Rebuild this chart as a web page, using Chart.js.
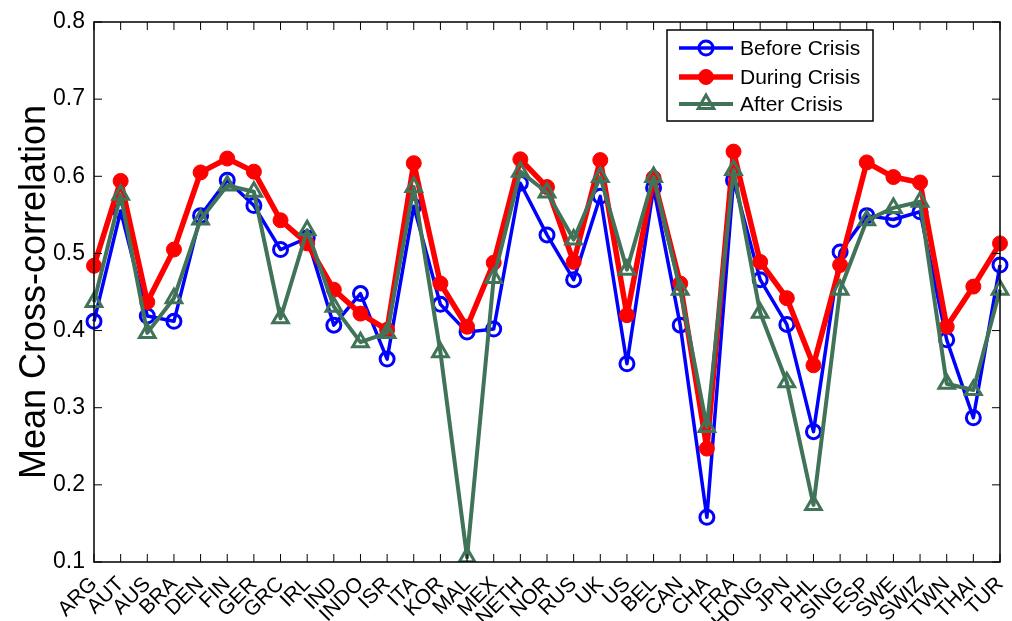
<!DOCTYPE html>
<html>
<head>
<meta charset="utf-8">
<script src="https://cdn.jsdelivr.net/npm/chart.js@4.4.1/dist/chart.umd.min.js"></script>
<style>
  html, body { margin: 0; padding: 0; background: #fff; }
</style>
</head>
<body>
<canvas id="chart" width="1012" height="621"></canvas>
<script>
const countries = ['ARG', 'AUT', 'AUS', 'BRA', 'DEN', 'FIN', 'GER', 'GRC', 'IRL', 'IND', 'INDO', 'ISR',
  'ITA', 'KOR', 'MAL', 'MEX', 'NETH', 'NOR', 'RUS', 'UK', 'US', 'BEL', 'CAN', 'CHA', 'FRA', 'HONG',
  'JPN', 'PHL', 'SING', 'ESP', 'SWE', 'SWIZ', 'TWN', 'THAI', 'TUR'];

const beforeCrisis = [0.412, 0.555, 0.419, 0.412, 0.549, 0.595, 0.562, 0.505, 0.520, 0.407, 0.448, 0.363,
  0.561, 0.434, 0.398, 0.402, 0.591, 0.524, 0.466, 0.574, 0.357, 0.585, 0.407, 0.158, 0.595, 0.466,
  0.408, 0.269, 0.502, 0.549, 0.544, 0.554, 0.388, 0.287, 0.485];

const duringCrisis = [0.484, 0.594, 0.437, 0.505, 0.605, 0.623, 0.606, 0.543, 0.513, 0.453, 0.422, 0.401,
  0.617, 0.461, 0.405, 0.488, 0.622, 0.586, 0.489, 0.621, 0.420, 0.598, 0.461, 0.247, 0.632, 0.489,
  0.442, 0.355, 0.485, 0.618, 0.599, 0.592, 0.405, 0.457, 0.513];

const afterCrisis = [0.437, 0.576, 0.397, 0.442, 0.544, 0.588, 0.580, 0.416, 0.530, 0.431, 0.385, 0.397,
  0.586, 0.372, 0.106, 0.468, 0.606, 0.579, 0.518, 0.599, 0.479, 0.599, 0.453, 0.275, 0.608, 0.423,
  0.333, 0.174, 0.453, 0.543, 0.559, 0.567, 0.331, 0.323, 0.453];

const yTicks = [0.1, 0.2, 0.3, 0.4, 0.5, 0.6, 0.7, 0.8];

const BLUE = '#0000ff';
const RED = '#ff0000';
const GREEN = '#407358';
const FONT = '"Liberation Sans", Arial, sans-serif';

// box, inward ticks on all four sides, and the legend (matlab style)
const matlabFrame = {
  id: 'matlabFrame',
  afterDraw(chart) {
    const { ctx, chartArea: a, scales } = chart;
    const len = 8;
    ctx.save();
    ctx.strokeStyle = '#000';
    ctx.lineWidth = 1.5;
    ctx.strokeRect(a.left, a.top, a.right - a.left, a.bottom - a.top);
    ctx.lineWidth = 1;
    ctx.beginPath();
    scales.x.ticks.forEach((t, i) => {
      const x = scales.x.getPixelForTick(i);
      ctx.moveTo(x, a.bottom); ctx.lineTo(x, a.bottom - len);
      ctx.moveTo(x, a.top); ctx.lineTo(x, a.top + len);
    });
    scales.y.ticks.forEach((t, i) => {
      const y = scales.y.getPixelForTick(i);
      ctx.moveTo(a.left, y); ctx.lineTo(a.left + len, y);
      ctx.moveTo(a.right, y); ctx.lineTo(a.right - len, y);
    });
    ctx.stroke();

    // legend
    const lx = 667, ly = 30, lw = 206, lh = 91;
    ctx.fillStyle = '#fff';
    ctx.fillRect(lx, ly, lw, lh);
    ctx.lineWidth = 1.5;
    ctx.strokeStyle = '#000';
    ctx.strokeRect(lx, ly, lw, lh);
    const rows = [48, 77, 104];
    chart.data.datasets.forEach((ds, i) => {
      const y = rows[i];
      ctx.strokeStyle = ds.borderColor;
      ctx.lineWidth = ds.borderWidth;
      ctx.beginPath();
      ctx.moveTo(679, y); ctx.lineTo(733, y);
      ctx.stroke();
      ctx.fillStyle = ds.pointBackgroundColor;
      ctx.lineWidth = ds.pointBorderWidth;
      ctx.beginPath();
      if (ds.pointStyle === 'circle') {
        ctx.arc(706, y, ds.pointRadius, 0, Math.PI * 2);
      } else {
        const r = ds.pointRadius;
        ctx.moveTo(706, y - r);
        ctx.lineTo(706 + r * 0.866, y + r * 0.5);
        ctx.lineTo(706 - r * 0.866, y + r * 0.5);
        ctx.closePath();
      }
      ctx.fill();
      ctx.stroke();
      ctx.fillStyle = '#000';
      ctx.font = '21px ' + FONT;
      ctx.textBaseline = 'middle';
      ctx.textAlign = 'left';
      ctx.fillText(ds.label, 740, y + 1);
    });
    ctx.restore();
  }
};

const ctx = document.getElementById('chart').getContext('2d');
new Chart(ctx, {
  type: 'line',
  data: {
    labels: countries,
    datasets: [
      {
        label: 'Before Crisis',
        data: beforeCrisis,
        borderColor: BLUE,
        borderWidth: 3.5,
        borderJoinStyle: 'round',
        pointStyle: 'circle',
        pointRadius: 7,
        pointBorderWidth: 3,
        pointBackgroundColor: 'rgba(0,0,0,0)',
        pointBorderColor: BLUE,
        order: 2
      },
      {
        label: 'During Crisis',
        data: duringCrisis,
        borderColor: RED,
        borderWidth: 5.5,
        borderJoinStyle: 'round',
        pointStyle: 'circle',
        pointRadius: 7.5,
        pointBorderWidth: 1,
        pointBackgroundColor: RED,
        pointBorderColor: RED,
        order: 1
      },
      {
        label: 'After Crisis',
        data: afterCrisis,
        borderColor: GREEN,
        borderWidth: 4,
        borderJoinStyle: 'round',
        pointStyle: 'triangle',
        pointRadius: 9,
        pointBorderWidth: 3,
        pointBackgroundColor: 'rgba(0,0,0,0)',
        pointBorderColor: GREEN,
        order: 0
      }
    ]
  },
  options: {
    responsive: false,
    animation: false,
    devicePixelRatio: 1,
    layout: { padding: { left: 0, right: 12, top: 22, bottom: 0 } },
    plugins: {
      legend: { display: false },
      tooltip: { enabled: false }
    },
    scales: {
      x: {
        offset: false,
        grid: { display: false },
        border: { display: false },
        ticks: {
          autoSkip: false,
          maxRotation: 45,
          minRotation: 45,
          padding: 2,
          color: '#000',
          font: { family: FONT, size: 21 }
        },
        afterFit(scale) {
          scale.height = 59;
          scale.paddingLeft = 0;
          scale.paddingRight = 0;
        }
      },
      y: {
        min: 0.1,
        max: 0.8,
        grid: { display: false },
        border: { display: false },
        afterBuildTicks(scale) { scale.ticks = yTicks.map(v => ({ value: v })); },
        ticks: {
          autoSkip: false,
          padding: 1,
          color: '#000',
          font: { family: FONT, size: 23 },
          callback: v => v.toFixed(1)
        },
        title: {
          display: true,
          text: 'Mean Cross-correlation',
          color: '#000',
          font: { family: FONT, size: 36 },
          padding: { top: 13, bottom: 0 }
        },
        afterFit(scale) {
          scale.width = 94;
          scale.paddingTop = 0;
          scale.paddingBottom = 0;
        }
      }
    }
  },
  plugins: [matlabFrame]
});
</script>
</body>
</html>
